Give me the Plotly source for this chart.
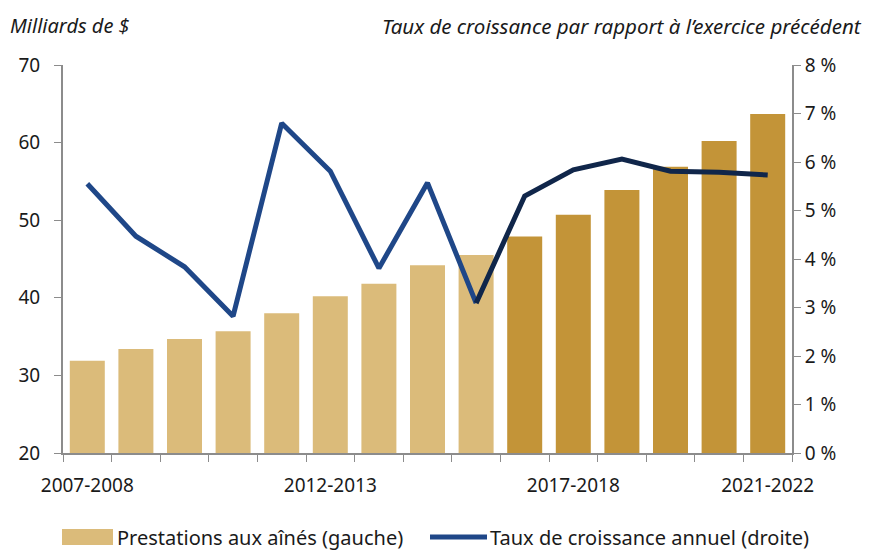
import plotly.graph_objects as go

categories = [f"{y}-{y+1}" for y in range(2007, 2022)]
benefits = [31.9, 33.4, 34.7, 35.7, 38.0, 40.2, 41.8, 44.2, 45.5, 47.9, 50.7, 53.9, 56.9, 60.2, 63.7]
growth = [5.55, 4.47, 3.84, 2.82, 6.80, 5.81, 3.81, 5.57, 3.09, 5.30, 5.84, 6.06, 5.81, 5.79, 5.73]
shown_labels = {"2007-2008", "2012-2013", "2017-2018", "2021-2022"}
tick_text = [c if c in shown_labels else "" for c in categories]
n_actual = 9  # first 9 bars lighter (actual), rest projected
legend_labels = ["Prestations aux aînés (gauche)", "Taux de croissance annuel (droite)"]

light = "#DBBB7A"
dark = "#C39438"
blue = "#1F4788"
navy = "#10264A"
FONT = "Noto Sans"

bar_colors = [light if i < n_actual else dark for i in range(len(categories))]

fig = go.Figure()
fig.add_trace(go.Bar(x=categories, y=benefits, marker=dict(color=bar_colors, line=dict(width=0)),
                     name=legend_labels[0], yaxis="y", showlegend=False))
fig.add_trace(go.Scatter(x=categories[:n_actual], y=growth[:n_actual], mode="lines",
                         line=dict(color=blue, width=5), name=legend_labels[1], yaxis="y2",
                         showlegend=False))
fig.add_trace(go.Scatter(x=categories[n_actual-1:], y=growth[n_actual-1:], mode="lines",
                         line=dict(color=navy, width=5), showlegend=False, yaxis="y2"))

axis_col = "#8C8C8C"
W, H = 870, 550
L, R, T, B = 63, 78, 65, 97
pw = W - L - R
ph = H - T - B

def px(x):
    return (x - L) / pw

def py(y):
    return (H - B - y) / ph

shapes = [
    dict(type="rect", xref="paper", yref="paper", x0=px(62), x1=px(113), y0=py(545), y1=py(529),
         fillcolor=light, line=dict(width=0)),
    dict(type="line", xref="paper", yref="paper", x0=px(430), x1=px(487), y0=py(537), y1=py(537),
         line=dict(color=blue, width=5)),
]

annotations = [
    dict(text="<i>Milliards de $</i>", xref="paper", yref="paper", x=px(8), y=py(26),
         xanchor="left", yanchor="middle", showarrow=False, font=dict(size=20)),
    dict(text="<i>Taux de croissance par rapport à l’exercice précédent</i>", xref="paper",
         yref="paper", x=px(864), y=py(26), xanchor="right", yanchor="middle", showarrow=False,
         font=dict(size=20.5)),
    dict(text=legend_labels[0], xref="paper", yref="paper", x=px(115), y=py(537),
         xanchor="left", yanchor="middle", showarrow=False, font=dict(size=20)),
    dict(text=legend_labels[1], xref="paper", yref="paper", x=px(488), y=py(537),
         xanchor="left", yanchor="middle", showarrow=False, font=dict(size=20)),
]

fig.update_layout(
    width=W, height=H,
    margin=dict(l=L, r=R, t=T, b=B),
    paper_bgcolor="white", plot_bgcolor="white",
    font=dict(family=FONT, size=19, color="#1A1A1A"),
    bargap=0.28,
    showlegend=False,
    xaxis=dict(type="category", tickvals=categories, ticktext=tick_text, tickson="boundaries",
               ticks="outside", ticklen=7, tickcolor=axis_col, showline=True, linecolor=axis_col,
               linewidth=2, showgrid=False, tickfont=dict(size=19), range=[-0.5, 14.5],
               tickangle=0, automargin=False, ticklabelstandoff=14),
    yaxis=dict(range=[20, 70], dtick=10, ticks="outside", ticklen=7, tickcolor=axis_col,
               showline=True, linecolor=axis_col, linewidth=2, showgrid=False, zeroline=False,
               tickfont=dict(size=19), automargin=False, ticklabelstandoff=10),
    yaxis2=dict(range=[0, 8], dtick=1, overlaying="y", side="right", ticks="outside", ticklen=7,
                tickcolor=axis_col, showline=True, linecolor=axis_col, linewidth=2, showgrid=False,
                zeroline=False, ticksuffix=" %", tickfont=dict(size=19), automargin=False),
    shapes=shapes,
    annotations=annotations,
)

fig.write_html("out.html", config={"displayModeBar": False},
               post_script="document.body.style.margin='0';document.body.style.overflow='hidden';")
